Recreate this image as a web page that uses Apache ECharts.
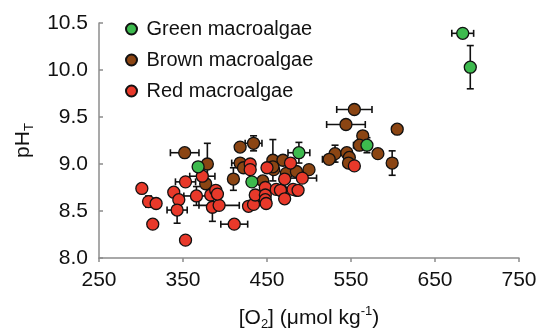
<!DOCTYPE html>
<html>
<head>
<meta charset="utf-8">
<script src="https://cdn.jsdelivr.net/npm/echarts@6/dist/echarts.min.js"></script>
<style>html,body{margin:0;padding:0;background:#fff}#c{width:551px;height:329px}</style>
</head>
<body>
<div id="c"></div>
<script>
// ---- data ----
var xTicks = [250, 350, 450, 550, 650, 750];
var yTicks = [8.0, 8.5, 9.0, 9.5, 10.0, 10.5];

var greenX    = [683, 692, 569, 488, 432, 368];
var greenY    = [10.39, 10.03, 9.20, 9.12, 8.81, 8.97];
var greenXErr = [13, 0, 0, 13, 6, 0];
var greenYErr = [0.02, 0.23, 0.08, 0.11, 0, 0];

var brownX    = [554, 544, 605, 564, 560, 531, 524, 545, 548, 547, 582, 599, 352, 379, 377, 418, 434, 418, 410, 445, 457, 458, 469, 473, 485, 500, 457, 467, 485, 422];
var brownY    = [9.58, 9.42, 9.37, 9.30, 9.20, 9.11, 9.05, 9.12, 9.07, 9.01, 9.11, 9.01, 9.12, 9.00, 8.79, 9.18, 9.22, 9.01, 8.84, 8.82, 9.04, 8.94, 9.04, 8.90, 8.92, 8.94, 8.97, 8.72, 8.72, 8.96];
var brownXErr = [21, 23, 6, 5, 7, 0, 8, 0, 0, 0, 0, 0, 17, 0, 0, 0, 10, 10, 0, 0, 0, 0, 0, 0, 0, 0, 0, 0, 0, 0];
var brownYErr = [0, 0, 0, 0.04, 0, 0.09, 0, 0, 0, 0, 0, 0.13, 0, 0.22, 0, 0, 0.08, 0, 0.12, 0, 0.22, 0, 0, 0, 0, 0, 0, 0, 0, 0];

var redX    = [301, 309, 318, 314, 339, 345, 343, 353, 353, 366, 373, 383, 389, 385, 393, 411, 428, 434, 430, 430, 436, 448, 448, 448, 450, 461, 466, 471, 471, 478, 481, 487, 492, 554, 449, 391];
var redY    = [8.74, 8.60, 8.58, 8.36, 8.70, 8.62, 8.51, 8.81, 8.19, 8.66, 8.87, 8.67, 8.72, 8.54, 8.56, 8.36, 8.55, 8.57, 9.00, 8.94, 8.67, 8.75, 8.67, 8.62, 8.96, 8.73, 8.72, 8.63, 8.84, 9.01, 8.73, 8.72, 8.85, 8.98, 8.58, 8.68];
var redXErr = [0, 0, 0, 4, 0, 0, 12, 12, 0, 15, 15, 0, 0, 0, 24, 16, 0, 0, 0, 0, 0, 0, 0, 0, 0, 0, 0, 0, 0, 0, 10, 0, 17, 0, 0, 0];
var redYErr = [0, 0.06, 0, 0.04, 0, 0, 0.14, 0, 0, 0.1, 0, 0, 0, 0.15, 0, 0, 0, 0, 0, 0, 0, 0, 0, 0, 0, 0, 0, 0, 0, 0, 0, 0, 0, 0, 0, 0];

// ---- helpers ----
function pts(xs, ys) { return xs.map(function (x, i) { return [x, ys[i]]; }); }
function errs(xs, ys, xe, ye) { return xs.map(function (x, i) { return [x, ys[i], xe[i], ye[i]]; }); }

function errRender(params, api) {
  var x = api.value(0), y = api.value(1), xe = api.value(2), ye = api.value(3);
  var c = api.coord([x, y]);
  var cap = 3.5;
  var style = { stroke: '#111', lineWidth: 1.6, fill: null };
  var children = [];
  if (xe > 0) {
    var l = api.coord([x - xe, y]), r = api.coord([x + xe, y]);
    children.push({ type: 'line', shape: { x1: l[0], y1: c[1], x2: r[0], y2: c[1] }, style: style });
    children.push({ type: 'line', shape: { x1: l[0], y1: c[1] - cap, x2: l[0], y2: c[1] + cap }, style: style });
    children.push({ type: 'line', shape: { x1: r[0], y1: c[1] - cap, x2: r[0], y2: c[1] + cap }, style: style });
  }
  if (ye > 0) {
    var t = api.coord([x, y + ye]), b = api.coord([x, y - ye]);
    children.push({ type: 'line', shape: { x1: c[0], y1: t[1], x2: c[0], y2: b[1] }, style: style });
    children.push({ type: 'line', shape: { x1: c[0] - cap, y1: t[1], x2: c[0] + cap, y2: t[1] }, style: style });
    children.push({ type: 'line', shape: { x1: c[0] - cap, y1: b[1], x2: c[0] + cap, y2: b[1] }, style: style });
  }
  return { type: 'group', children: children };
}

var GREEN = '#3dba4e', BROWN = '#8b4513', RED = '#e8392a';
var FONT = 'Liberation Sans, Arial, sans-serif';

function scatter(name, color, data, z) {
  return {
    name: name, type: 'scatter', data: data, symbol: 'circle', symbolSize: 12, z: z,
    itemStyle: { color: color, borderColor: '#111', borderWidth: 1.3, opacity: 1 },
    emphasis: { disabled: true }
  };
}
function errSeries(data, z) {
  return { type: 'custom', renderItem: errRender, data: data, z: z, silent: true,
    encode: { x: 0, y: 1 } };
}

var chart = echarts.init(document.getElementById('c'), null, { renderer: 'canvas' });
chart.setOption({
  animation: false,
  backgroundColor: '#fff',
  textStyle: { fontFamily: FONT },
  grid: { left: 99, right: 32, top: 23, bottom: 71, containLabel: false, outerBoundsMode: 'none' },
  legend: {
    orient: 'vertical', left: 120, top: 14, itemGap: 11,
    itemWidth: 20, itemHeight: 11, icon: 'circle',
    textStyle: { fontSize: 20, color: '#111', fontFamily: FONT },
    data: ['Green macroalgae', 'Brown macroalgae', 'Red macroalgae']
  },
  xAxis: {
    type: 'value', min: xTicks[0], max: xTicks[xTicks.length - 1], interval: 100,
    axisLine: { lineStyle: { color: '#8c8c8c', width: 1.5 } },
    axisTick: { inside: false, length: 4, lineStyle: { color: '#8c8c8c', width: 1.5 } },
    splitLine: { show: false },
    axisLabel: { fontSize: 21, color: '#111', margin: 12, fontFamily: FONT },
    name: '[O{sub|2}] (μmol kg{sup|-1})', nameLocation: 'middle', nameGap: 47,
    nameTextStyle: {
      fontSize: 21, color: '#111', fontFamily: FONT, lineHeight: 26,
      rich: {
        sub: { fontSize: 13, lineHeight: 26, verticalAlign: 'bottom', color: '#111', fontFamily: FONT },
        sup: { fontSize: 13, lineHeight: 26, verticalAlign: 'top', color: '#111', fontFamily: FONT }
      }
    }
  },
  yAxis: {
    type: 'value', min: yTicks[0], max: yTicks[yTicks.length - 1], interval: 0.5,
    axisLine: { show: true, lineStyle: { color: '#8c8c8c', width: 1.5 } },
    axisTick: { show: true, inside: true, length: 4, lineStyle: { color: '#8c8c8c', width: 1.5 } },
    splitLine: { show: false },
    axisLabel: { fontSize: 21, color: '#111', margin: 11, fontFamily: FONT,
      formatter: function (v) { return v.toFixed(1); } },
    name: 'pH{sub|T}', nameLocation: 'middle', nameGap: 56, nameRotate: 90,
    nameTextStyle: {
      fontSize: 21, color: '#111', fontFamily: FONT, lineHeight: 26,
      rich: {
        sub: { fontSize: 13, lineHeight: 26, verticalAlign: 'bottom', color: '#111', fontFamily: FONT }
      }
    }
  },
  series: [
    errSeries(errs(brownX, brownY, brownXErr, brownYErr), 1),
    errSeries(errs(redX, redY, redXErr, redYErr), 1),
    errSeries(errs(greenX, greenY, greenXErr, greenYErr), 1),
    scatter('Brown macroalgae', BROWN, pts(brownX, brownY), 2),
    scatter('Red macroalgae', RED, pts(redX, redY), 3),
    scatter('Green macroalgae', GREEN, pts(greenX, greenY), 4)
  ]
});
</script>
</body>
</html>
